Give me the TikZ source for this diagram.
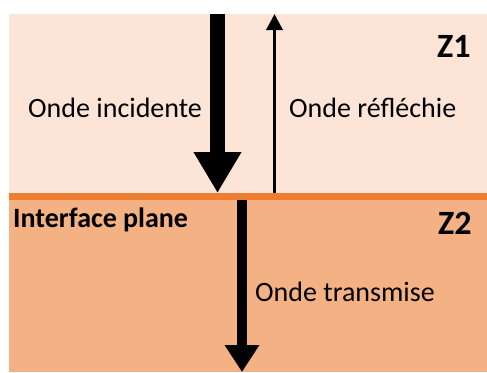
\documentclass[tikz,border=0pt]{standalone}
\usepackage{fontspec}
\setmainfont{Carlito}
\usetikzlibrary{arrows.meta}
\definecolor{zoneun}{HTML}{FCE4D6}
\definecolor{zonedeux}{HTML}{F4B183}
\definecolor{plan}{HTML}{ED7D31}

\begin{document}
\begin{tikzpicture}[x=1pt,y=-1pt,
  onde/.style={inner sep=0pt, anchor=base west, font=\fontsize{28}{30}\selectfont},
  zone/.style={inner sep=0pt, anchor=base west, font=\fontsize{34}{36}\selectfont\bfseries}]
\useasboundingbox (0,0) rectangle (487,372);
% milieux
\fill[zoneun] (9,14) rectangle (487,193);
\fill[zonedeux] (9,200) rectangle (487,372);
\fill[plan] (9,193) rectangle (487,200);

% ondes
\coordinate (inc) at (217.5,14);
\coordinate (incbas) at (217.5,193);
\coordinate (refl) at (274.5,193);
\coordinate (reflhaut) at (274.5,14);
\coordinate (trans) at (242,200);
\coordinate (transbas) at (242,372);

\draw[line width=15pt, -{Triangle[width=45pt,length=41pt]}] (inc) -- (incbas);
\draw[line width=3.5pt, -{Triangle[width=16pt,length=16pt]}] (refl) -- (reflhaut);
\draw[line width=10pt, -{Triangle[width=33pt,length=27pt]}] (trans) -- (transbas);

\node[onde] (ninc) at (28,117) {Onde incidente};
\node[onde] (nrefl) at (289,117) {Onde réfléchie};
\node[onde] (ntrans) at (255,301) {Onde transmise};
\node[zone] (z1) at (437,57) {Z1};
\node[zone] (z2) at (438,234) {Z2};
\node[onde, font=\fontsize{28}{30}\selectfont\bfseries] (iface) at (13,227) {Interface plane};
\end{tikzpicture}
\end{document}
